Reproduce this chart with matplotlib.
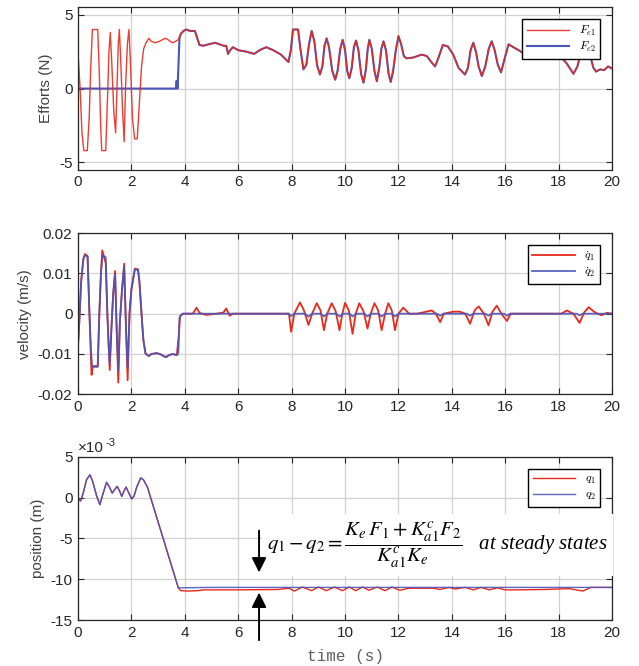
import matplotlib
matplotlib.use("Agg")
import matplotlib.pyplot as plt
from matplotlib.ticker import FuncFormatter
import numpy as np

plt.rcParams['font.family'] = ['Liberation Sans', 'DejaVu Sans']
plt.rcParams['axes.unicode_minus'] = False

# ---- efforts (N) ----
t_fe1 = [0.00, 0.08, 0.15, 0.22, 0.35, 0.42, 0.48, 0.54, 0.74, 0.80, 0.85, 0.89, 1.04, 1.10, 1.16, 1.21,
         1.26, 1.34, 1.41, 1.46, 1.51, 1.55, 1.60, 1.67, 1.73, 1.78, 1.85, 1.91, 1.97, 2.04, 2.12, 2.22,
         2.30, 2.38, 2.46, 2.55, 2.65, 2.75, 2.90, 3.05, 3.20, 3.30, 3.45, 3.55, 3.65, 3.75, 3.85, 3.95,
         4.05, 4.20, 4.38, 4.47, 4.55, 4.70, 4.90, 5.13, 5.30, 5.45, 5.55, 5.62, 5.70, 5.80, 6.00, 6.30,
         6.60, 6.80, 7.05, 7.31, 7.60, 7.88, 7.97, 8.05, 8.24, 8.32, 8.44, 8.55, 8.65, 8.75, 8.85, 8.95,
         9.06, 9.15, 9.23, 9.31, 9.40, 9.52, 9.63, 9.72, 9.82, 9.91, 10.00, 10.08, 10.16, 10.25, 10.33, 10.41,
         10.50, 10.60, 10.69, 10.78, 10.85, 10.91, 11.00, 11.10, 11.19, 11.28, 11.36, 11.44, 11.53, 11.63, 11.71, 11.80,
         11.90, 12.00, 12.10, 12.20, 12.30, 12.55, 12.87, 13.06, 13.25, 13.37, 13.50, 13.66, 13.85, 14.05, 14.25, 14.49,
         14.60, 14.70, 14.80, 14.90, 15.00, 15.12, 15.25, 15.38, 15.49, 15.60, 15.72, 15.84, 15.97, 16.12, 16.30, 16.50,
         16.75, 17.05, 17.55, 17.93, 18.10, 18.30, 18.55, 18.70, 18.85, 19.00, 19.15, 19.30, 19.40, 19.55, 19.70, 19.85,
         20.00]
fe1 = [2.5, 0.0, -3.0, -4.2, -4.2, -2.0, 1.5, 4.0, 4.0, 1.0, -2.5, -4.2, -4.2, -1.0, 2.5, 3.8,
       2.0, -1.5, -3.0, 0.0, 3.0, 4.0, 2.0, -1.5, -3.6, 0.0, 3.0, 4.0, 1.5, -2.0, -3.4, -3.4,
       -1.0, 1.5, 2.7, 3.1, 3.4, 3.2, 3.1, 3.2, 3.35, 3.4, 3.2, 3.1, 3.2, 3.3, 3.7, 3.9,
       4.0, 3.9, 3.9, 3.4, 2.95, 2.9, 3.0, 3.1, 3.0, 2.9, 2.9, 2.35, 2.6, 2.8, 2.6, 2.5,
       2.35, 2.6, 2.8, 2.6, 2.3, 1.8, 2.6, 4.0, 4.0, 2.8, 1.3, 1.6, 3.0, 3.9, 3.2, 1.6,
       0.95, 1.5, 2.9, 3.4, 2.8, 1.2, 0.6, 1.2, 2.7, 3.3, 2.6, 1.2, 0.7, 1.4, 2.8, 3.25,
       2.6, 1.0, 0.4, 1.3, 2.7, 3.3, 2.7, 1.2, 0.5, 1.4, 2.7, 3.2, 2.6, 1.0, 0.45, 1.2,
       2.6, 3.55, 3.0, 2.2, 2.05, 2.1, 2.3, 2.2, 1.75, 1.5, 2.1, 2.95, 2.85, 2.3, 1.4, 0.95,
       1.4, 2.6, 3.1, 2.5, 1.5, 0.85, 1.5, 2.7, 3.2, 2.6, 1.6, 1.1, 2.0, 3.0, 2.8, 2.6,
       2.3, 2.05, 2.05, 2.2, 2.1, 1.7, 1.0, 1.5, 2.6, 3.2, 2.4, 1.4, 1.15, 1.3, 1.25, 1.5,
       1.35]
# second effort: zero until contact, then tracks the first one
t_fe2_start = [0.00, 3.67, 3.68, 3.72, 3.73, 3.80]
fe2_start = [0.0, 0.0, 0.5, 0.5, 0.0, 3.4]
t_fe2 = t_fe2_start + t_fe1[46:]
fe2 = fe2_start + fe1[46:]

# ---- velocity (m/s) ----
t_qd1 = [0.00, 0.05, 0.12, 0.20, 0.26, 0.36, 0.42, 0.47, 0.51, 0.55, 0.74, 0.80, 0.86, 0.91, 0.98, 1.04,
         1.10, 1.15, 1.19, 1.25, 1.32, 1.39, 1.45, 1.51, 1.57, 1.65, 1.73, 1.80, 1.86, 1.93, 2.00, 2.13,
         2.25, 2.30, 2.40, 2.45, 2.53, 2.65, 2.75, 2.95, 3.10, 3.20, 3.30, 3.40, 3.55, 3.70, 3.78, 3.82,
         3.95, 4.30, 4.44, 4.55, 4.80, 5.20, 5.45, 5.55, 5.68, 5.80, 7.90, 7.98, 8.10, 8.31, 8.45, 8.63,
         8.78, 8.94, 9.08, 9.21, 9.33, 9.50, 9.65, 9.79, 9.90, 10.00, 10.14, 10.28, 10.40, 10.53, 10.69, 10.84,
         10.96, 11.10, 11.24, 11.37, 11.50, 11.62, 11.75, 11.87, 12.00, 12.18, 12.40, 12.70, 13.25, 13.40, 13.56, 13.70,
         14.05, 14.30, 14.50, 14.68, 14.85, 15.00, 15.20, 15.37, 15.52, 15.68, 15.85, 16.06, 16.20, 18.10, 18.30, 18.55,
         18.78, 18.95, 19.12, 19.30, 19.45, 19.60, 19.80, 20.00]
qd1 = [-0.0082, -0.002, 0.008, 0.0135, 0.0148, 0.0143, 0.002, -0.008, -0.0152, -0.013, -0.013, 0.0, 0.010, 0.0157, 0.014, 0.0125,
       0.0, -0.008, -0.014, -0.004, 0.005, 0.0106, -0.004, -0.0171, -0.002, 0.006, 0.0124, -0.004, -0.0165, 0.0, 0.006, 0.0112,
       0.011, 0.008, -0.002, -0.0066, -0.0099, -0.0105, -0.0100, -0.0098, -0.0101, -0.0105, -0.0108, -0.0103, -0.0100, -0.0103, -0.005, -0.0006,
       0.0, 0.0, 0.0015, 0.0002, -0.0003, 0.0, 0.0003, 0.0013, -0.0005, 0.0, 0.0, -0.0045, 0.0, 0.0028, 0.001, -0.0028,
       0.0002, 0.0026, 0.0008, -0.0041, 0.0, 0.0026, 0.0006, -0.0041, 0.0, 0.0027, 0.0008, -0.005, 0.0, 0.0026, 0.0006, -0.0037,
       0.0, 0.0026, 0.0008, -0.0041, 0.0, 0.0026, 0.0008, -0.0041, 0.0, 0.0015, 0.0, 0.0, 0.0008, 0.0, -0.0021, 0.0,
       0.0005, 0.0005, 0.0, -0.0025, 0.0008, 0.0018, 0.0, -0.0029, 0.0005, 0.002, 0.0, -0.0018, 0.0, 0.0, 0.0008, 0.0,
       -0.0023, 0.0003, 0.0016, 0.0006, 0.0, -0.0004, 0.0002, 0.0]
t_qd2 = [0.00, 0.05, 0.12, 0.20, 0.26, 0.36, 0.42, 0.48, 0.53, 0.74, 0.80, 0.86, 0.92, 1.04, 1.10, 1.15,
         1.19, 1.25, 1.32, 1.39, 1.45, 1.51, 1.57, 1.65, 1.73, 1.80, 1.86, 1.93, 2.00, 2.13, 2.25, 2.30,
         2.40, 2.45, 2.53, 2.65, 2.75, 2.95, 3.10, 3.20, 3.30, 3.40, 3.55, 3.70, 3.76, 3.80, 3.90, 7.90,
         7.98, 8.10, 8.50, 8.63, 8.76, 9.10, 9.21, 9.34, 9.68, 9.79, 9.92, 10.17, 10.28, 10.41, 10.73, 10.84,
         10.97, 11.26, 11.37, 11.50, 11.76, 11.87, 12.00, 13.45, 13.56, 13.67, 14.57, 14.68, 14.79, 15.26, 15.37, 15.48,
         15.95, 16.06, 16.17, 18.67, 18.78, 18.89, 20.00]
qd2 = [-0.0080, -0.002, 0.008, 0.0135, 0.0145, 0.0142, 0.002, -0.008, -0.0132, -0.0132, 0.0, 0.010, 0.0145, 0.0140, 0.0, -0.008,
       -0.0125, -0.004, 0.005, 0.0098, -0.004, -0.0140, -0.002, 0.006, 0.0118, -0.004, -0.0135, 0.0, 0.006, 0.0110, 0.0108, 0.008,
       -0.002, -0.0066, -0.0099, -0.0105, -0.0100, -0.0098, -0.0101, -0.0105, -0.0108, -0.0103, -0.0100, -0.0103, -0.0098, -0.001, 0.0, 0.0,
       -0.0006, 0.0, 0.0, -0.0007, 0.0, 0.0, -0.0007, 0.0, 0.0, -0.0007, 0.0, 0.0, -0.0007, 0.0, 0.0, -0.0007,
       0.0, 0.0, -0.0007, 0.0, 0.0, -0.0007, 0.0, 0.0, -0.0005, 0.0, 0.0, -0.0005, 0.0, 0.0, -0.0005, 0.0,
       0.0, -0.0005, 0.0, 0.0, -0.0004, 0.0, 0.0]

# ---- position (x1e-3 m) ----
t_q1 = [0.00, 0.05, 0.10, 0.20, 0.32, 0.45, 0.55, 0.70, 0.82, 0.92, 1.07, 1.18, 1.28, 1.38, 1.47, 1.56,
        1.64, 1.72, 1.80, 1.90, 2.01, 2.10, 2.20, 2.35, 2.45, 2.60, 3.76, 3.85, 4.10, 4.50, 4.70, 6.00,
        7.50, 7.90, 8.10, 8.40, 8.75, 9.00, 9.30, 9.60, 9.90, 10.15, 10.40, 10.65, 10.90, 11.20, 11.50, 11.75,
        12.05, 12.40, 13.30, 13.55, 13.90, 14.10, 14.50, 14.80, 15.10, 15.40, 15.70, 16.00, 16.50, 17.50, 18.40, 18.90,
        19.20, 20.00]
q1 = [0.0, -0.3, -0.4, 0.6, 2.2, 2.8, 2.0, 0.2, -0.86, 0.3, 1.88, 1.3, 0.57, 1.0, 1.39, 0.8,
      0.16, 0.8, 1.3, 0.6, -0.16, 0.2, 1.3, 2.42, 2.2, 1.3, -11.1, -11.4, -11.45, -11.4, -11.3, -11.3,
      -11.25, -11.1, -11.45, -10.95, -11.4, -10.95, -11.4, -10.95, -11.4, -10.95, -11.4, -10.95, -11.35, -10.95, -11.4, -10.95,
      -11.35, -11.1, -11.1, -11.25, -11.0, -11.2, -11.0, -11.3, -11.0, -11.3, -11.05, -11.3, -11.3, -11.25, -11.15, -11.45,
      -11.0, -11.0]
t_q2 = [0.00, 0.05, 0.10, 0.20, 0.32, 0.45, 0.55, 0.70, 0.82, 0.92, 1.07, 1.18, 1.28, 1.38, 1.47, 1.56,
        1.64, 1.72, 1.80, 1.90, 2.01, 2.10, 2.20, 2.35, 2.45, 2.60, 3.76, 5.00, 20.00]
q2 = [0.0, -0.3, -0.4, 0.6, 2.2, 2.8, 2.0, 0.2, -0.86, 0.3, 1.88, 1.3, 0.57, 1.0, 1.39, 0.8,
      0.16, 0.8, 1.3, 0.6, -0.16, 0.2, 1.3, 2.42, 2.2, 1.3, -11.05, -11.0, -11.0]

RED = '#e8291c'
BLUE = '#4b55b8'
DARK = '#262626'

fig = plt.figure(figsize=(6.39, 6.66), dpi=100)
ax1 = fig.add_axes([0.122, 0.745, 0.836, 0.244])
ax2 = fig.add_axes([0.122, 0.408, 0.836, 0.242])
ax3 = fig.add_axes([0.122, 0.069, 0.836, 0.245])


def style(ax):
    ax.set_xlim(0, 20)
    ax.set_xticks(np.arange(0, 21, 2))
    ax.grid(True, color='#d2d2d2', lw=0.9)
    ax.set_axisbelow(True)
    ax.tick_params(direction='in', top=True, right=True, length=4, width=0.8,
                   color=DARK, labelcolor=DARK, labelsize=11, pad=4)
    for s in ax.spines.values():
        s.set_color(DARK)
        s.set_linewidth(0.9)


leg_kw = dict(loc='upper right', fancybox=False, edgecolor='black', framealpha=1,
              handlelength=3.6, borderaxespad=1.0, labelspacing=0.2,
              prop={'size': 8.5, 'math_fontfamily': 'cm'})

# blue underneath so the red trace stays visible, as in the source figure
l2, = ax1.plot(t_fe2, fe2, color=BLUE, lw=1.5, label=r'$F_{e2}$')
l1, = ax1.plot(t_fe1, fe1, color=RED, lw=1.0, alpha=0.9, label=r'$F_{e1}$')
style(ax1)
ax1.set_ylim(-5.5, 5.5)
ax1.set_yticks([-5, 0, 5])
ax1.set_ylabel('Efforts (N)', fontsize=11, color='#404040')
ax1.legend([l1, l2], [r'$F_{e1}$', r'$F_{e2}$'], **leg_kw).get_frame().set_linewidth(1.0)

ax2.plot(t_qd1, qd1, color=RED, lw=1.3, label=r'$\dot{q}_1$')
ax2.plot(t_qd2, qd2, color=BLUE, lw=1.3, alpha=0.9, label=r'$\dot{q}_2$')
style(ax2)
ax2.set_ylim(-0.02, 0.02)
ax2.set_yticks([-0.02, -0.01, 0, 0.01, 0.02])
ax2.yaxis.set_major_formatter(FuncFormatter(lambda v, p: '%g' % round(v, 4)))
ax2.set_ylabel('velocity (m/s)', fontsize=11, color='#404040')
ax2.legend(**leg_kw).get_frame().set_linewidth(1.0)

ax3.plot(t_q1, np.array(q1) * 1e-3, color=RED, lw=1.0, label=r'$q_1$')
ax3.plot(t_q2, np.array(q2) * 1e-3, color=BLUE, lw=1.0, alpha=0.9, label=r'$q_2$')
style(ax3)
ax3.set_ylim(-0.015, 0.005)
ax3.set_yticks([-0.015, -0.010, -0.005, 0, 0.005])
ax3.yaxis.set_major_formatter(FuncFormatter(lambda v, p: '%g' % round(v * 1e3, 3)))
ax3.text(0.0, 1.01, '\u00d710', transform=ax3.transAxes, fontsize=11, color=DARK,
         ha='left', va='bottom')
ax3.text(0.052, 1.055, '-3', transform=ax3.transAxes, fontsize=8, color=DARK,
         ha='left', va='bottom')
ax3.set_ylabel('position (m)', fontsize=11, color='#404040')
ax3.legend(**leg_kw).get_frame().set_linewidth(1.0)

# steady state annotation
ax3.text(13.45, -0.0058,
         r'$q_1 - q_2 = \dfrac{K_e\,F_1 + K_{a1}^{c}F_2}{K_{a1}^{c}K_e}$   at steady states',
         fontsize=15, family='Liberation Serif', style='italic', math_fontfamily='stix',
         ha='center', va='center', zorder=5,
         bbox=dict(boxstyle='square,pad=0.25', facecolor='white', edgecolor='none'))
ax3.annotate('', xy=(6.78, -0.0095), xytext=(6.78, -0.0037),
             arrowprops=dict(arrowstyle='-|>', color='black', lw=1.4, mutation_scale=22),
             zorder=6)
ax3.annotate('', xy=(6.78, -0.0113), xytext=(6.78, -0.0178), annotation_clip=False,
             arrowprops=dict(arrowstyle='-|>', color='black', lw=1.4, mutation_scale=22),
             zorder=6)

fig.text(0.541, 0.014, 'time (s)', family='Liberation Mono', fontsize=11.5,
         color='#606060', ha='center', va='center')

fig.savefig('out.png', dpi=100)
